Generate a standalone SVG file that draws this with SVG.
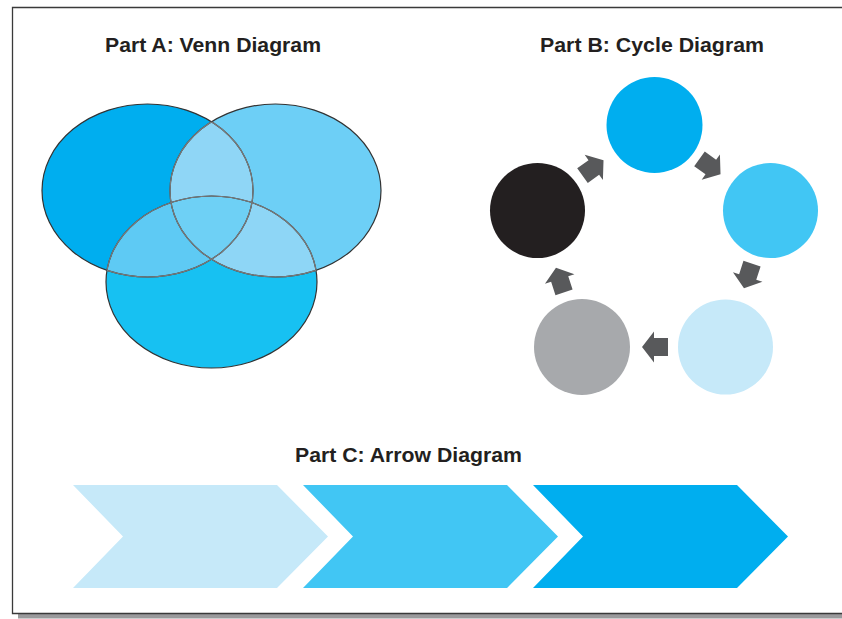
<svg xmlns="http://www.w3.org/2000/svg" width="842" height="619" viewBox="0 0 842 619">
<style>
.title{font-family:"Liberation Sans",Arial,sans-serif;font-weight:bold;font-size:20px;fill:#231F20}
.edge{stroke:#333;stroke-width:1.2;fill:none}
.inner{stroke:#7a7a7a;stroke-width:1.2;fill:none}
.arr{fill:#58595B}
</style>
<defs>
<ellipse id="eL" cx="147.5" cy="190.5" rx="105.5" ry="86.5"/>
<ellipse id="eR" cx="275.5" cy="190.5" rx="105.5" ry="86.5"/>
<ellipse id="eB" cx="211.5" cy="282" rx="105.5" ry="86"/>
<clipPath id="cL"><use href="#eL"/></clipPath>
<clipPath id="cR"><use href="#eR"/></clipPath>
<clipPath id="cB"><use href="#eB"/></clipPath>
<clipPath id="cRB"><use href="#eR"/><use href="#eB"/></clipPath>
<clipPath id="cLB"><use href="#eL"/><use href="#eB"/></clipPath>
<clipPath id="cLR"><use href="#eL"/><use href="#eR"/></clipPath>
<path id="blk" d="M-13,-9 H1 V-15.5 L13,0 L1,15.5 V9 H-13 Z"/>
<path id="chev" d="M0,485 H204 L255,536.5 L204,588 H0 L50,536.5 Z"/>
</defs>
<rect x="0" y="0" width="842" height="619" fill="#fff"/>
<!-- frame -->
<rect x="18" y="614" width="824" height="4.5" fill="#9a9a9c"/>
<path d="M842,7.5 H12.5 V613.5 H842" fill="none" stroke="#3a3a3a" stroke-width="1.3"/>

<text class="title" x="105" y="52" textLength="216" lengthAdjust="spacingAndGlyphs">Part A: Venn Diagram</text>
<text class="title" x="540" y="52" textLength="224" lengthAdjust="spacingAndGlyphs">Part B: Cycle Diagram</text>
<text class="title" x="295" y="462" textLength="227" lengthAdjust="spacingAndGlyphs">Part C: Arrow Diagram</text>

<!-- Venn -->
<g id="venn-left"><use href="#eL" fill="#00AEEF"/></g>
<g id="venn-right"><use href="#eR" fill="#6DCFF6"/></g>
<g id="venn-bottom"><use href="#eB" fill="#17C1F2"/></g>
<g id="venn-overlaps">
<use href="#eR" fill="#8FD6F6" clip-path="url(#cL)"/>
<use href="#eB" fill="#5ECAF4" clip-path="url(#cL)"/>
<use href="#eB" fill="#8ED6F6" clip-path="url(#cR)"/>
<g clip-path="url(#cL)"><use href="#eB" fill="#6ED0F5" clip-path="url(#cR)"/></g>
</g>
<g id="venn-outlines">
<use href="#eL" class="edge"/><use href="#eR" class="edge"/><use href="#eB" class="edge"/>
<use href="#eL" class="inner" clip-path="url(#cRB)"/>
<use href="#eR" class="inner" clip-path="url(#cLB)"/>
<use href="#eB" class="inner" clip-path="url(#cLR)"/>
</g>

<!-- Cycle -->
<g id="cycle-top"><circle cx="654.5" cy="125" r="48" fill="#00AEEF"/></g>
<g id="cycle-right"><circle cx="770.5" cy="210.5" r="47.5" fill="#41C6F4"/></g>
<g id="cycle-bottom-right"><circle cx="725.5" cy="347" r="47.5" fill="#C6E9F9"/></g>
<g id="cycle-bottom-left"><circle cx="582" cy="347" r="48" fill="#A7A9AC"/></g>
<g id="cycle-left"><circle cx="537.5" cy="210.5" r="47.5" fill="#231F20"/></g>
<g id="connectors">
<use href="#blk" class="arr" transform="translate(710,166.5) rotate(36)"/>
<use href="#blk" class="arr" transform="translate(748,276) rotate(108)"/>
<use href="#blk" class="arr" transform="translate(655,347) rotate(180)"/>
<use href="#blk" class="arr" transform="translate(560,280) rotate(252)"/>
<use href="#blk" class="arr" transform="translate(593,168) rotate(324)"/>
</g>

<!-- Arrow diagram -->
<g id="chevron-1"><use href="#chev" x="73" fill="#C6E9F9"/></g>
<g id="chevron-2"><use href="#chev" x="303" fill="#41C6F4"/></g>
<g id="chevron-3"><use href="#chev" x="533" fill="#00AEEF"/></g>
</svg>
